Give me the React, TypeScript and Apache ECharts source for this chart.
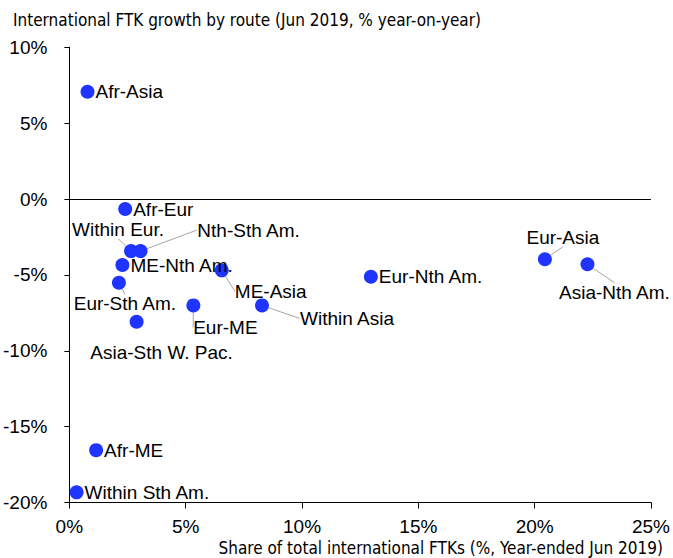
import React, { useEffect, useRef } from "react";
import * as echarts from "echarts";

const routes = [
  "Afr-Asia", "Afr-Eur", "Within Eur.", "Nth-Sth Am.", "ME-Nth Am.",
  "Eur-Sth Am.", "Asia-Sth W. Pac.", "Eur-ME", "ME-Asia", "Within Asia",
  "Eur-Nth Am.", "Eur-Asia", "Asia-Nth Am.", "Afr-ME", "Within Sth Am.",
];
// share of total international FTKs (%)
const share = [0.78, 2.40, 2.65, 3.06, 2.28, 2.13, 2.89, 5.33, 6.55, 8.28, 12.96, 20.44, 22.27, 1.15, 0.31];
// FTK growth, % year-on-year
const growth = [7.07, -0.66, -3.43, -3.43, -4.35, -5.52, -8.09, -7.01, -4.70, -7.01, -5.12, -3.97, -4.30, -16.55, -19.33];

const xTicks = [0, 5, 10, 15, 20, 25];
const yTicks = [-20, -15, -10, -5, 0, 5, 10];

// label placement (offset of label centre from the dot, px) and leader line flag
const labelOffsets: Record<string, [number, number, boolean]> = {
  "Within Eur.": [-13, -22, true],
  "Nth-Sth Am.": [108, -21, true],
  "Eur-Sth Am.": [6, 21, true],
  "Asia-Sth W. Pac.": [25, 31, false],
  "Eur-ME": [32, 22, true],
  "ME-Asia": [49, 21, true],
  "Within Asia": [85, 13, true],
  "Eur-Asia": [18, -22, true],
  "Asia-Nth Am.": [27, 28, true],
};

const FONT = "'Liberation Sans', Arial, Helvetica, sans-serif";
const NARROW = "'Liberation Sans Narrow', 'Arial Narrow', 'DejaVu Sans Condensed', sans-serif";

export default function App() {
  const ref = useRef<HTMLDivElement>(null);
  useEffect(() => {
    if (!ref.current) return;
    const chart = echarts.init(ref.current, null, { renderer: "svg" });
    const data = routes.map((name, i) => {
      const o = labelOffsets[name];
      return {
        name,
        value: [share[i], growth[i]],
        label: o ? { position: "inside" as const } : { position: "right" as const },
        labelLine: { show: o ? o[2] : false },
      };
    });
    chart.setOption({
      animation: false,
      backgroundColor: "#ffffff",
      title: {
        text: "International FTK growth by route (Jun 2019, % year-on-year)",
        left: 8,
        top: 6,
        textStyle: { fontFamily: NARROW, fontSize: 17, fontWeight: "normal", color: "#000" },
      },
      graphic: [
        {
          type: "text",
          right: 10,
          top: 539,
          style: {
            text: "Share of total international FTKs (%, Year-ended Jun 2019)",
            font: `17px ${NARROW}`,
            fill: "#000",
          },
        },
      ],
      grid: { left: 65.3, right: 19.7, top: 47.3, bottom: 55.5, containLabel: false },
      xAxis: {
        type: "value",
        min: xTicks[0],
        max: xTicks[xTicks.length - 1],
        interval: 5,
        axisLine: { onZero: false, lineStyle: { color: "#000", width: 1 } },
        axisTick: { show: true, length: 6, lineStyle: { color: "#000" } },
        splitLine: { show: false },
        axisLabel: {
          formatter: (v: number) => `${v}%`,
          fontFamily: FONT,
          fontSize: 19,
          color: "#000",
          margin: 14,
        },
      },
      yAxis: {
        type: "value",
        min: yTicks[0],
        max: yTicks[yTicks.length - 1],
        interval: 5,
        axisLine: { show: true, onZero: false, lineStyle: { color: "#000", width: 1 } },
        axisTick: { show: true, length: 5, lineStyle: { color: "#000" } },
        splitLine: { show: false },
        axisLabel: {
          formatter: (v: number) => `${v}%`,
          fontFamily: FONT,
          fontSize: 19,
          color: "#000",
          margin: 22,
        },
      },
      series: [
        {
          type: "scatter",
          symbolSize: 14,
          itemStyle: { color: "#1f35ff", opacity: 1 },
          label: {
            show: true,
            formatter: "{b}",
            fontFamily: FONT,
            fontSize: 19,
            color: "#000",
            distance: 1,
          },
          labelLine: { show: false, lineStyle: { color: "#a6a6a6", width: 1 } },
          labelLayout: (params: any) => {
            const o = labelOffsets[routes[params.dataIndex]];
            if (!o) return {};
            return { dx: o[0], dy: o[1] };
          },
          data,
          markLine: {
            silent: true,
            symbol: "none",
            label: { show: false },
            lineStyle: { color: "#000", width: 1, type: "solid" },
            data: [{ yAxis: 0 }],
          },
        },
      ],
    });
    return () => chart.dispose();
  }, []);
  return (
    <div
      ref={ref}
      style={{ position: "fixed", left: 0, top: 0, width: 673, height: 558, background: "#fff" }}
    />
  );
}
